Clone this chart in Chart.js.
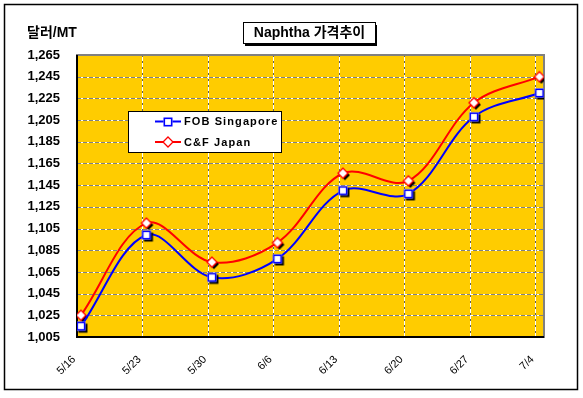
<!DOCTYPE html>
<html>
<head>
<meta charset="utf-8">
<script src="https://cdn.jsdelivr.net/npm/chart.js@4/dist/chart.umd.min.js"></script>
<style>
html,body{margin:0;padding:0;background:#fff;}
canvas{display:block;}
</style>
</head>
<body>
<canvas id="c" width="583" height="398"></canvas>
<script>
// ---- data ----
const categories = ['5/16','5/23','5/30','6/6','6/13','6/20','6/27','7/4'];
const fobSingapore = [1015, 1099, 1060, 1077, 1140, 1137, 1208, 1230];
const cfJapan      = [1025, 1110, 1074, 1092, 1156, 1149, 1221, 1245];
const yTicks = [1005,1025,1045,1065,1085,1105,1125,1145,1165,1185,1205,1225,1245,1265];
const titleText = 'Naphtha 가격추이';
const yUnitText = '달러/MT';
const seriesNames = ['FOB Singapore', 'C&F Japan'];

const FONT = "'Liberation Sans', Arial, 'Noto Sans CJK KR', sans-serif";
const POINT_SHIFT = 0.06;   // points sit slightly right of the gridlines
const X_MAX = 7.13;

function squareMarker(shadow){
  const c = document.createElement('canvas'); c.width = 16; c.height = 16;
  const g = c.getContext('2d');
  const s = 9, x0 = 8 - s/2;
  if (shadow){ g.fillStyle = '#000'; g.fillRect(x0+2, x0+2, s, s); }
  g.fillStyle = '#fff'; g.fillRect(x0, x0, s, s);
  g.strokeStyle = '#0000ff'; g.lineWidth = 1.6; g.strokeRect(x0+0.8, x0+0.8, s-1.6, s-1.6);
  return c;
}
function diamondMarker(shadow){
  const c = document.createElement('canvas'); c.width = 16; c.height = 16;
  const g = c.getContext('2d');
  const r = 5;
  const path = (dx,dy)=>{ g.beginPath(); g.moveTo(8+dx,8-r+dy); g.lineTo(8+r+dx,8+dy); g.lineTo(8+dx,8+r+dy); g.lineTo(8-r+dx,8+dy); g.closePath(); };
  if (shadow){ g.fillStyle = '#000'; path(2,2); g.fill(); }
  path(0,0); g.fillStyle = '#fff'; g.fill(); g.strokeStyle = '#ff0000'; g.lineWidth = 1.3; g.stroke();
  return c;
}
const sqShadow = squareMarker(true), dmShadow = diamondMarker(true);
const sqPlain = squareMarker(false), dmPlain = diamondMarker(false);

const toXY = arr => arr.map((v,i)=>({x: i + POINT_SHIFT, y: v}));

const decor = {
  id: 'decor',
  beforeDraw(chart){
    const ctx = chart.ctx, a = chart.chartArea;
    ctx.save();
    ctx.fillStyle = '#fff'; ctx.fillRect(0,0,chart.width,chart.height);
    ctx.fillStyle = '#ffcc00'; ctx.fillRect(a.left, a.top, a.right-a.left, a.bottom-a.top);
    const xs = chart.scales.x, ys = chart.scales.y;
    ys.ticks.forEach(t=>{
      const py = Math.round(ys.getPixelForValue(t.value)) + 0.5;
      ctx.setLineDash([]); ctx.strokeStyle = '#ffffff'; ctx.lineWidth = 1;
      ctx.beginPath(); ctx.moveTo(a.left, py); ctx.lineTo(a.right, py); ctx.stroke();
      ctx.setLineDash([4,2]); ctx.strokeStyle = '#808080';
      ctx.beginPath(); ctx.moveTo(a.left, py); ctx.lineTo(a.right, py); ctx.stroke();
    });
    xs.ticks.forEach(t=>{
      const px = Math.round(xs.getPixelForValue(t.value)) + 0.5;
      ctx.setLineDash([]); ctx.strokeStyle = '#ffffff'; ctx.lineWidth = 1;
      ctx.beginPath(); ctx.moveTo(px, a.top); ctx.lineTo(px, a.bottom); ctx.stroke();
      ctx.setLineDash([2,4]); ctx.strokeStyle = '#606060';
      ctx.beginPath(); ctx.moveTo(px, a.top); ctx.lineTo(px, a.bottom); ctx.stroke();
    });
    ctx.setLineDash([]);
    ctx.strokeStyle = '#808080'; ctx.lineWidth = 2;
    ctx.strokeRect(a.left, a.top, a.right-a.left, a.bottom-a.top);
    ctx.strokeStyle = '#000'; ctx.lineWidth = 2;
    ctx.beginPath(); ctx.moveTo(a.left, a.top); ctx.lineTo(a.left, a.bottom); ctx.lineTo(a.right, a.bottom); ctx.stroke();
    ctx.restore();
  },
  afterDraw(chart){
    const ctx = chart.ctx;
    ctx.save();
    ctx.strokeStyle = '#000'; ctx.lineWidth = 1.5;
    ctx.strokeRect(4.5, 4.5, 573, 385);
    ctx.fillStyle = '#fff'; ctx.fillRect(243, 23, 132, 21);
    ctx.fillStyle = '#000';
    ctx.fillRect(375, 25, 2, 21); ctx.fillRect(245, 44, 132, 2);
    ctx.lineWidth = 1; ctx.strokeRect(243.5, 22.5, 132, 21);
    ctx.font = 'bold 14px ' + FONT; ctx.textAlign = 'center'; ctx.textBaseline = 'middle';
    ctx.fillText(titleText, 309.5, 33.5);
    ctx.textAlign = 'left';
    ctx.fillText(yUnitText, 27, 33);
    ctx.fillStyle = '#fff'; ctx.fillRect(128, 111, 153, 41);
    ctx.strokeStyle = '#000'; ctx.lineWidth = 1; ctx.strokeRect(128.5, 111.5, 153, 41);
    const rows = [
      {y: 121.5, color: '#0000ff', img: sqPlain, name: seriesNames[0]},
      {y: 142, color: '#ff0000', img: dmPlain, name: seriesNames[1]}
    ];
    ctx.font = 'bold 11px ' + FONT; ctx.textBaseline = 'middle'; ctx.textAlign = 'left';
    try { ctx.letterSpacing = '1.1px'; } catch(e){}
    rows.forEach(r=>{
      ctx.strokeStyle = r.color; ctx.lineWidth = 2;
      ctx.beginPath(); ctx.moveTo(155, r.y); ctx.lineTo(181, r.y); ctx.stroke();
      ctx.drawImage(r.img, 168-8, Math.round(r.y)-8);
      ctx.fillStyle = '#000';
      ctx.fillText(r.name, 184, r.y + 0.5);
    });
    ctx.restore();
  }
};

new Chart(document.getElementById('c'), {
  type: 'line',
  data: {
    datasets: [
      {label: seriesNames[0], data: toXY(fobSingapore), borderColor: '#0000ff', borderWidth: 2,
       pointStyle: sqShadow, pointRadius: 6, tension: 0.35, fill: false},
      {label: seriesNames[1], data: toXY(cfJapan), borderColor: '#ff0000', borderWidth: 2,
       pointStyle: dmShadow, pointRadius: 6, tension: 0.35, fill: false}
    ]
  },
  options: {
    responsive: false,
    animation: false,
    devicePixelRatio: 1,
    layout: {padding: {left: 0, top: 55, right: 39, bottom: 0}},
    plugins: {legend: {display: false}, title: {display: false}, tooltip: {enabled: false}},
    scales: {
      x: {
        type: 'linear', min: 0, max: X_MAX,
        grid: {display: false, drawTicks: false}, border: {display: false},
        afterBuildTicks: s => { s.ticks = categories.map((c,i)=>({value: i})); },
        afterFit: s => { s.height = 61; },
        ticks: {
          callback: v => categories[v] ?? '',
          minRotation: 45, maxRotation: 45, padding: 16, labelOffset: -3, autoSkip: false,
          color: '#000', font: {family: FONT, size: 11}
        }
      },
      y: {
        min: 1005, max: 1265,
        grid: {display: false, drawTicks: false}, border: {display: false},
        afterBuildTicks: s => { s.ticks = yTicks.map(v=>({value: v})); },
        afterFit: s => { s.width = 77; },
        ticks: {
          callback: v => v.toLocaleString('en-US'),
          padding: 17, color: '#000', font: {family: FONT, size: 13, weight: 'bold'}
        }
      }
    }
  },
  plugins: [decor]
});
</script>
</body>
</html>
